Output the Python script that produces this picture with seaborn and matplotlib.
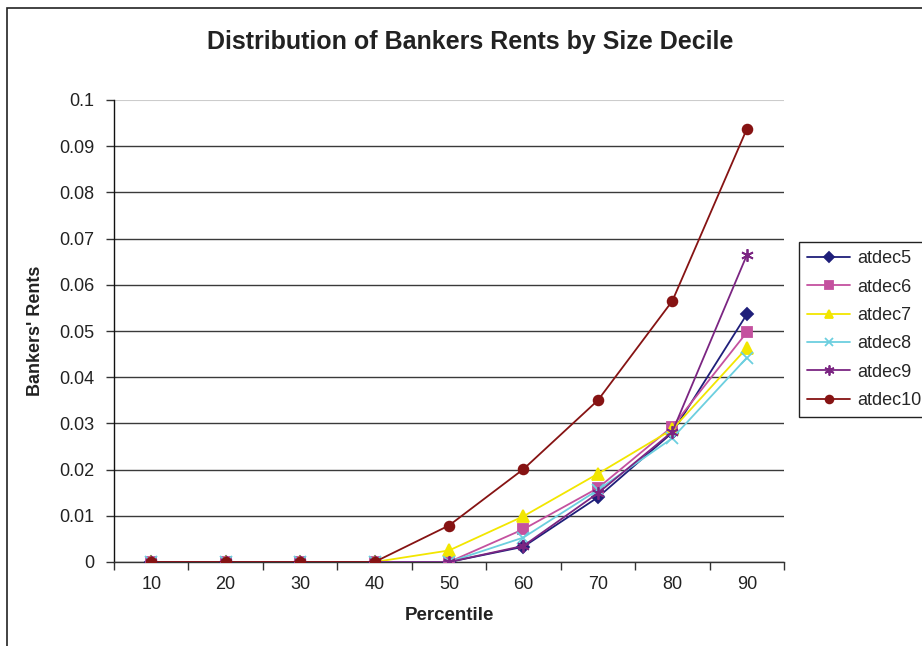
import matplotlib
matplotlib.use("Agg")
import matplotlib.pyplot as plt
import seaborn as sns
import pandas as pd
from matplotlib.patches import Rectangle
from matplotlib.ticker import FixedLocator, FormatStrFormatter

percentiles = [10, 20, 30, 40, 50, 60, 70, 80, 90]
atdec5 = [0, 0, 0, 0, 0, 0.0033, 0.0140, 0.0280, 0.0536]
atdec6 = [0, 0, 0, 0, 0, 0.0071, 0.0160, 0.0293, 0.0497]
atdec7 = [0, 0, 0, 0, 0.0025, 0.0099, 0.0191, 0.0287, 0.0463]
atdec8 = [0, 0, 0, 0, 0, 0.0053, 0.0156, 0.0268, 0.0442]
atdec9 = [0, 0, 0, 0, 0, 0.0035, 0.0149, 0.0282, 0.0664]
atdec10 = [0, 0, 0, 0, 0.0079, 0.0201, 0.0350, 0.0565, 0.0937]
series_names = ["atdec5", "atdec6", "atdec7", "atdec8", "atdec9", "atdec10"]
series_values = [atdec5, atdec6, atdec7, atdec8, atdec9, atdec10]
y_ticks = [0, 0.01, 0.02, 0.03, 0.04, 0.05, 0.06, 0.07, 0.08, 0.09, 0.1]

colors = ["#1F1F7A", "#C4519F", "#F2E600", "#6CCFDF", "#7B2582", "#861313"]
markers = ["D", "s", "^", "x", (6, 2, 0), "o"]
msizes = [6, 7, 8, 8, 9, 7]

sns.set_theme(style="white")
plt.rcParams['font.family'] = ['Liberation Sans', 'DejaVu Sans']

fig = plt.figure(figsize=(9.22, 6.46), dpi=100)
ax = fig.add_axes([114/922, 1-562/646, (784-114)/922, (562-100)/646])

frames = []
for name, vals in zip(series_names, series_values):
    frames.append(pd.DataFrame({"Percentile": percentiles, "value": vals, "series": name}))
df = pd.concat(frames, ignore_index=True)

for name, c, m, ms in zip(series_names, colors, markers, msizes):
    sub = df[df["series"] == name]
    sns.lineplot(data=sub, x="Percentile", y="value", ax=ax, color=c, marker=m,
                 markersize=ms, markeredgecolor=c, markerfacecolor=c,
                 markeredgewidth=1.3, linewidth=1.3, label=name, zorder=3)

ax.set_xlim(5, 95)
ax.set_ylim(0, 0.1)
ax.xaxis.set_major_locator(FixedLocator(percentiles))
ax.xaxis.set_minor_locator(FixedLocator([5, 15, 25, 35, 45, 55, 65, 75, 85, 95]))
ax.tick_params(axis="x", which="major", length=0, labelsize=13, pad=10, colors="#222222")
ax.tick_params(axis="x", which="minor", length=6, width=1, direction="out", color="#333333", bottom=True)
ax.yaxis.set_major_locator(FixedLocator(y_ticks))
ax.yaxis.set_major_formatter(FormatStrFormatter("%g"))
ax.tick_params(axis="y", which="major", length=6, width=1, direction="out", labelsize=13,
               color="#333333", left=True, pad=8, labelcolor="#222222")

ax.grid(axis="y", color="#3a3a3a", linewidth=1.0)
ax.set_axisbelow(True)
ygl = ax.get_ygridlines()
ygl[-1].set_color("#cccccc")
ygl[-1].set_linewidth(1.5)

for s in ["top", "right"]:
    ax.spines[s].set_visible(False)
ax.spines["left"].set_color("#111111")
ax.spines["bottom"].set_color("#333333")
ax.spines["left"].set_linewidth(1.0)
ax.spines["bottom"].set_linewidth(1.0)

ax.set_xlabel("Percentile", fontsize=13.5, fontweight="bold", labelpad=10, color="#222222")
ax.set_ylabel("Bankers' Rents", fontsize=13, fontweight="bold", labelpad=11, color="#222222")

fig.text(470/922, 1-42/646, "Distribution of Bankers Rents by Size Decile",
         ha="center", va="center", fontsize=18, fontweight="bold", color="#222222")

handles, labels = ax.get_legend_handles_labels()
ax.legend(handles, labels, loc="upper left", bbox_to_anchor=(799/922, 1-242/646),
          bbox_transform=fig.transFigure, fontsize=13, frameon=True, fancybox=False,
          edgecolor="#222222", framealpha=1, borderpad=0.45, labelspacing=0.63,
          handlelength=2.4, handletextpad=0.4, borderaxespad=0, markerscale=0.8)
ax.get_legend().get_frame().set_linewidth(1.0)

fig.patches.append(Rectangle((7/922, -0.1), 1.2, 1 - 8/646 + 0.1, transform=fig.transFigure,
                             fill=False, edgecolor="#222222", linewidth=1.2))

fig.savefig("out.png", dpi=100)
